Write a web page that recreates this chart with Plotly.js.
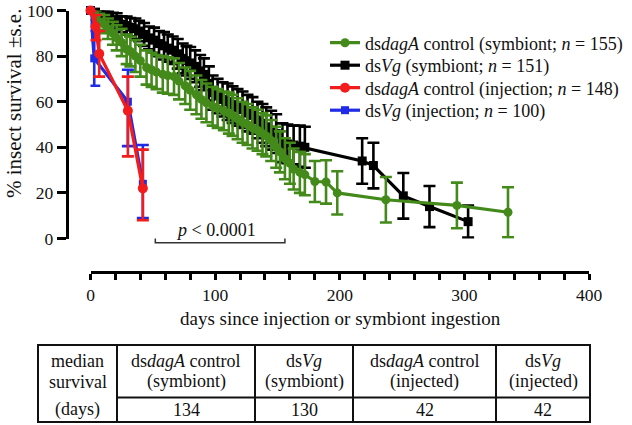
<!DOCTYPE html>
<html>
<head>
<meta charset="utf-8">
<script src="https://cdn.plot.ly/plotly-3.0.1.min.js"></script>
<style>html,body{margin:0;padding:0;background:#fff;}#chart{width:632px;height:425px;}</style>
</head>
<body>
<div id="chart"></div>
<script>
// ---------- data ----------
const greenDays = [0, 4, 7, 11, 14, 18, 21, 25, 29, 32, 36, 40, 45, 49, 53, 58, 62, 67, 71, 76, 80, 85, 89, 93, 98, 102, 107, 111, 114, 118, 122, 126, 130, 134, 138, 141, 145, 149, 152, 156, 160, 163, 168, 172, 180, 189, 198, 237, 294, 335];
const greenSurv = [100, 98, 95, 94, 92, 90, 88, 86, 83, 82, 80, 78, 75, 74, 73, 72, 71.5, 71, 69, 67, 65, 63, 61, 59.5, 58, 57, 56, 55, 54, 52.5, 51, 50, 48.5, 47.5, 46, 45, 43, 40, 38, 35, 33, 30.5, 29, 28, 25, 24.8, 20, 17, 14.5, 11.5];
const greenErr  = [0, 2, 3.5, 4, 4.5, 5, 5.5, 6, 6.5, 6.5, 7, 7, 7.5, 7.5, 7.5, 8, 8, 8, 8, 8, 8.5, 8.5, 8.5, 8.5, 8.5, 8.5, 8.5, 9, 9, 9, 9, 9, 9, 9, 9, 9, 9, 9, 9, 9, 9, 9, 9, 9, 9, 9.5, 9.5, 10, 10, 11];

const blackDays = [0, 4, 7, 11, 14, 18, 21, 25, 29, 32, 36, 39, 43, 47, 51, 55, 59, 62, 66, 70, 74, 77, 80, 84, 88, 91, 95, 98, 102, 106, 110, 114, 118, 122, 126, 130, 134, 138, 141, 145, 149, 154, 158, 163, 168, 172, 218, 227, 251, 272, 303];
const blackSurv = [100, 99.3, 98, 97.5, 96.8, 96, 95.3, 94, 93.4, 92.7, 92, 91, 89.5, 88, 87, 85.5, 84.5, 83.5, 82.6, 81, 79, 78, 77, 75.5, 73.5, 72, 68, 64, 62.5, 61, 60, 58.7, 57.5, 56.5, 55, 54, 52, 50.5, 49, 47.5, 46, 42, 41.5, 41, 40.5, 40, 34, 32, 18.7, 14, 7.4];
const blackErr  = [0, 1.5, 2, 2.5, 3, 3, 3.5, 3.5, 4, 4, 4.5, 4.5, 5, 5, 5.5, 5.5, 6, 6, 6, 6.5, 6.5, 6.5, 7, 7, 7, 7, 7.5, 7.5, 7.5, 7.5, 8, 8, 8, 8, 8, 8, 8, 8.5, 8.5, 8.5, 8.5, 8.5, 8.5, 8.5, 9, 9, 10, 10, 10, 9, 7];

const redDays = [0, 4, 7, 30, 42];
const redSurv = [100, 93, 81, 56, 22];
const redErrPlus  = [0, 5, 10, 15, 17];
const redErrMinus = [0, 6, 10, 20, 14];

const blueDays = [0, 3, 30, 42];
const blueSurv = [100, 79, 60, 24];
const blueErrPlus  = [0, 12, 14, 17];
const blueErrMinus = [0, 12, 19.5, 15];

const seriesNames = [
  "ds<i>dagA</i> control (symbiont; <i>n</i> = 155)",
  "ds<i>Vg</i> (symbiont; <i>n</i> = 151)",
  "ds<i>dagA</i> control (injection; <i>n</i> = 148)",
  "ds<i>Vg</i> (injection; <i>n</i> = 100)"
];

const xTickVals = [0, 100, 200, 300, 400];
const yTickVals = [0, 20, 40, 60, 80, 100];

const tableHeadLine1 = ["ds<i>dagA</i> control", "ds<i>Vg</i>", "ds<i>dagA</i> control", "ds<i>Vg</i>"];
const tableHeadLine2 = ["(symbiont)", "(symbiont)", "(injected)", "(injected)"];
const tableRowLabel = ["median", "survival", "(days)"];
const medianSurvival = [134, 130, 42, 42];
const pText = "<i>p</i> < 0.0001";
const pRange = [52, 156];

// ---------- layout helpers (pixel -> paper) ----------
const W = 632, H = 425;
const px = v => v / W;
const py = v => 1 - v / H;
const FONT = "Liberation Serif";
const GREEN = "#438a1a", RED = "#f21c1c", BLUE = "#1f2be6", BLACK = "#000000";

function errTrace(name, xs, ys, plus, minus, color, symbol, size, legendId) {
  return {
    type: "scatter", mode: "lines+markers", name: name, x: xs, y: ys,
    line: {color: color, width: 3.2},
    marker: {color: color, symbol: symbol, size: size},
    error_y: {type: "data", array: plus, arrayminus: minus, symmetric: false,
              color: color, thickness: 2.6, width: 6},
    cliponaxis: false, legend: legendId
  };
}

const traces = [
  errTrace(seriesNames[1], blackDays, blackSurv, blackErr, blackErr, BLACK, "square", 9, "legend2"),
  errTrace(seriesNames[0], greenDays, greenSurv, greenErr, greenErr, GREEN, "circle", 9, "legend"),
  errTrace(seriesNames[3], blueDays, blueSurv, blueErrPlus, blueErrMinus, BLUE, "square", 8, "legend4"),
  errTrace(seriesNames[2], redDays, redSurv, redErrPlus, redErrMinus, RED, "circle", 10, "legend3")
];

// table geometry
const colEdges = [38, 117, 255, 353, 496, 590];
const rowTop = 345, rowMid = 397.5, rowBot = 422;

const shapes = [];
const annotations = [];
shapes.push({type: "rect", xref: "paper", yref: "paper", x0: px(colEdges[0]), x1: px(colEdges[5]), y0: py(rowBot), y1: py(rowTop), line: {color: "#111", width: 2}});
for (let i = 1; i < colEdges.length - 1; i++) {
  shapes.push({type: "line", xref: "paper", yref: "paper", x0: px(colEdges[i]), x1: px(colEdges[i]), y0: py(rowBot), y1: py(rowTop), line: {color: "#111", width: 2}});
}
shapes.push({type: "line", xref: "paper", yref: "paper", x0: px(colEdges[1]), x1: px(colEdges[5]), y0: py(rowMid), y1: py(rowMid), line: {color: "#111", width: 2}});

const tFont = {family: FONT, size: 18, color: "#111"};
const headY = [361, 381.5];
tableRowLabel.forEach((t, i) => {
  const yy = [headY[0], headY[1], 409][i];
  annotations.push({xref: "paper", yref: "paper", x: px((colEdges[0] + colEdges[1]) / 2), y: py(yy), text: t, showarrow: false, font: tFont, xanchor: "center", yanchor: "middle"});
});
for (let c = 0; c < 4; c++) {
  const cx = px((colEdges[c + 1] + colEdges[c + 2]) / 2);
  annotations.push({xref: "paper", yref: "paper", x: cx, y: py(headY[0]), text: tableHeadLine1[c], showarrow: false, font: tFont, xanchor: "center", yanchor: "middle"});
  annotations.push({xref: "paper", yref: "paper", x: cx, y: py(headY[1]), text: tableHeadLine2[c], showarrow: false, font: tFont, xanchor: "center", yanchor: "middle"});
  annotations.push({xref: "paper", yref: "paper", x: cx, y: py(410), text: String(medianSurvival[c]), showarrow: false, font: tFont, xanchor: "center", yanchor: "middle"});
}

// p-value bracket
shapes.push({type: "path", xref: "x", yref: "paper",
  path: "M " + pRange[0] + "," + py(238.5) + " L " + pRange[0] + "," + py(242.7) + " L " + pRange[1] + "," + py(242.7) + " L " + pRange[1] + "," + py(238.5),
  line: {color: "#333", width: 1.5}});
annotations.push({xref: "paper", yref: "paper", x: px(216), y: py(230), text: pText, showarrow: false, font: {family: FONT, size: 18, color: "#111"}, xanchor: "center", yanchor: "middle"});

// axis titles
annotations.push({xref: "paper", yref: "paper", x: px(14), y: py(104), text: "% insect survival ±s.e.", textangle: -90, showarrow: false, font: {family: FONT, size: 21, color: "#111"}, xanchor: "center", yanchor: "middle"});
annotations.push({xref: "paper", yref: "paper", x: px(340), y: py(318), text: "days since injection or symbiont ingestion", showarrow: false, font: {family: FONT, size: 19, color: "#111"}, xanchor: "center", yanchor: "middle"});

function legendAt(rowY) {
  return {x: px(325), y: py(rowY), xanchor: "left", yanchor: "middle", bgcolor: "rgba(0,0,0,0)", borderwidth: 0,
          font: {family: FONT, size: 18, color: "#111"}, itemwidth: 30};
}

const layout = {
  width: W, height: H, autosize: false,
  margin: {l: 0, r: 0, t: 0, b: 0, pad: 0},
  paper_bgcolor: "#fff", plot_bgcolor: "rgba(0,0,0,0)",
  font: {family: FONT, size: 18, color: "#111"},
  showlegend: true,
  legend: legendAt(43), legend2: legendAt(65.5), legend3: legendAt(88), legend4: legendAt(110.5),
  xaxis: {domain: [px(90.5), px(589)], range: [0, 400], anchor: "free", position: py(271.5),
          showgrid: false, zeroline: false, showline: true, linewidth: 3.5, linecolor: "#000",
          ticks: "outside", ticklen: 6, tickwidth: 3, tickcolor: "#000", tickvals: xTickVals,
          tickfont: {family: FONT, size: 17.5, color: "#111"},
          minor: {dtick: 20, ticks: "outside", ticklen: 6, tickwidth: 3, tickcolor: "#000", showgrid: false}},
  yaxis: {domain: [py(238.5), py(10.5)], range: [0, 100], anchor: "free", position: px(66.7),
          showgrid: false, zeroline: false, showline: true, linewidth: 3.5, linecolor: "#000",
          ticks: "outside", ticklen: 9, tickwidth: 3, tickcolor: "#000", tickvals: yTickVals,
          tickfont: {family: FONT, size: 17.5, color: "#111"}},
  shapes: shapes, annotations: annotations
};

Plotly.newPlot("chart", traces, layout, {displayModeBar: false, staticPlot: true});
</script>
</body>
</html>
